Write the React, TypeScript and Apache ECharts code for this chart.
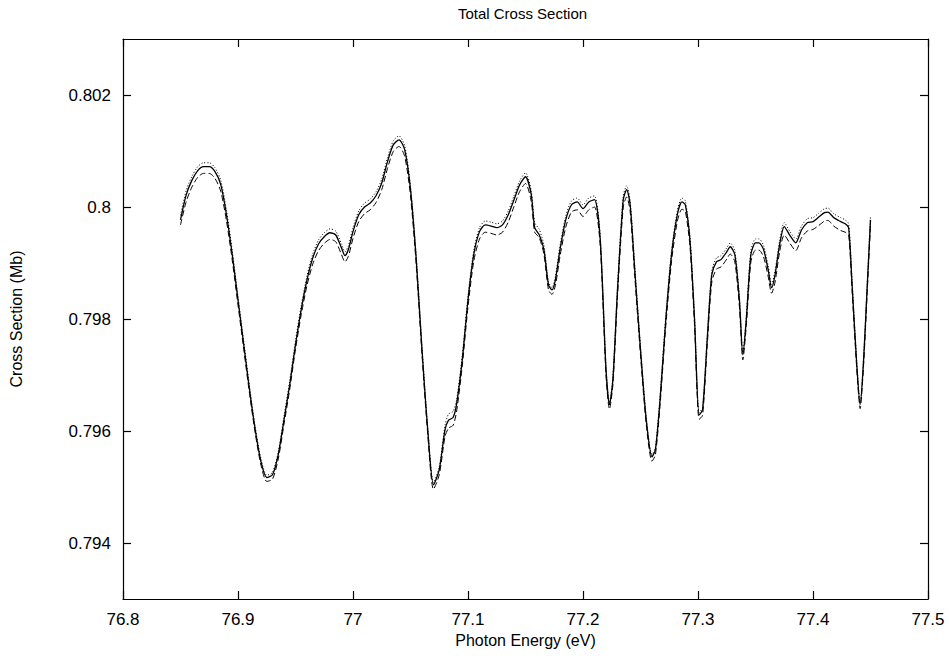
import React, { useEffect, useRef } from "react";
import * as echarts from "echarts";

const energies = [
  76.85, 76.855, 76.86, 76.865, 76.87, 76.875, 76.88, 76.885, 76.89, 76.895,
  76.9, 76.905, 76.91, 76.915, 76.92, 76.925, 76.93, 76.935, 76.94, 76.945,
  76.95, 76.955, 76.96, 76.965, 76.97, 76.975, 76.98, 76.985, 76.99, 76.993,
  76.996, 77.0, 77.005, 77.01, 77.015, 77.02, 77.025, 77.03, 77.035, 77.04,
  77.045, 77.05, 77.055, 77.06, 77.065, 77.07, 77.075, 77.08, 77.083, 77.087,
  77.09, 77.095, 77.1, 77.105, 77.11, 77.115, 77.12, 77.125, 77.13, 77.135,
  77.14, 77.145, 77.15, 77.155, 77.158, 77.162, 77.166, 77.17, 77.173, 77.176,
  77.18, 77.185, 77.19, 77.195, 77.2, 77.205, 77.21, 77.215, 77.22, 77.223,
  77.226, 77.23, 77.235, 77.238, 77.241, 77.245, 77.25, 77.255, 77.26, 77.263,
  77.267, 77.272, 77.277, 77.282, 77.286, 77.289, 77.293, 77.297, 77.301, 77.304,
  77.308, 77.312, 77.316, 77.32, 77.325, 77.328, 77.332, 77.336, 77.339, 77.342,
  77.346, 77.35, 77.353, 77.357, 77.361, 77.364, 77.367, 77.371, 77.375, 77.38,
  77.385, 77.39, 77.395, 77.4, 77.405, 77.41, 77.413, 77.418, 77.424, 77.428,
  77.431, 77.434, 77.438, 77.441, 77.444, 77.447, 77.45,
];

const solid = [
  0.79977, 0.80022, 0.80048, 0.80065, 0.80072, 0.80072, 0.80063, 0.8004, 0.79986, 0.79915,
  0.79834, 0.79754, 0.79674, 0.79602, 0.79545, 0.79517, 0.79522, 0.79558, 0.7962, 0.79683,
  0.79754, 0.79817, 0.7987, 0.79909, 0.79934, 0.79947, 0.79954, 0.7995, 0.79927, 0.79913,
  0.79924, 0.79956, 0.79986, 0.8, 0.80007, 0.8002, 0.80043, 0.80081, 0.80111, 0.8012,
  0.80102, 0.80031, 0.79906, 0.79745, 0.79602, 0.79504, 0.79531, 0.79602, 0.79619, 0.79624,
  0.79647, 0.79727, 0.79834, 0.79915, 0.79956, 0.79968, 0.79966, 0.79963, 0.79968, 0.79986,
  0.80013, 0.8004, 0.80054, 0.80022, 0.79963, 0.7995, 0.79924, 0.79861, 0.79852, 0.7987,
  0.79924, 0.79977, 0.80004, 0.80009, 0.79997, 0.80009, 0.80013, 0.79941, 0.7971, 0.79647,
  0.79692, 0.79852, 0.80013, 0.80031, 0.80004, 0.79888, 0.79745, 0.7962, 0.79554, 0.79567,
  0.79656, 0.79799, 0.79915, 0.79986, 0.80009, 0.80004, 0.79941, 0.79799, 0.79629, 0.79638,
  0.79763, 0.79879, 0.79902, 0.79906, 0.7992, 0.79929, 0.79915, 0.79834, 0.79736, 0.79799,
  0.79915, 0.79936, 0.79936, 0.79924, 0.79888, 0.79856, 0.79879, 0.79933, 0.79965, 0.79949,
  0.79936, 0.79959, 0.79972, 0.79974, 0.79982, 0.7999, 0.79991, 0.79981, 0.79974, 0.7997,
  0.79963, 0.79861, 0.7972, 0.79647, 0.79727, 0.79852, 0.79977,
];

const dotted = [
  0.79985, 0.8003, 0.80055, 0.80072, 0.80079, 0.80079, 0.8007, 0.80048, 0.79994, 0.79922,
  0.7984, 0.7976, 0.7968, 0.79607, 0.7955, 0.79521, 0.79526, 0.79563, 0.79626, 0.7969,
  0.79761, 0.79824, 0.79877, 0.79916, 0.79941, 0.79954, 0.79961, 0.79957, 0.79934, 0.7992,
  0.79931, 0.79963, 0.79993, 0.80007, 0.80014, 0.80027, 0.8005, 0.80088, 0.80118, 0.80127,
  0.80109, 0.80038, 0.79912, 0.7975, 0.79606, 0.79508, 0.79536, 0.7961, 0.7963, 0.79635,
  0.79655, 0.79734, 0.79841, 0.79922, 0.79963, 0.79975, 0.79973, 0.7997, 0.79975, 0.79993,
  0.8002, 0.80047, 0.80061, 0.80029, 0.79972, 0.7996, 0.79932, 0.79866, 0.79856, 0.79876,
  0.79931, 0.79984, 0.80011, 0.80016, 0.80004, 0.80016, 0.8002, 0.79948, 0.79715, 0.79651,
  0.79697, 0.79858, 0.8002, 0.80038, 0.80011, 0.79894, 0.7975, 0.79624, 0.79558, 0.79571,
  0.79661, 0.79805, 0.79922, 0.79993, 0.80016, 0.80011, 0.79947, 0.79804, 0.79633, 0.79642,
  0.79769, 0.79886, 0.79909, 0.79913, 0.79927, 0.79936, 0.79922, 0.7984, 0.7974, 0.79805,
  0.79922, 0.79943, 0.79943, 0.79931, 0.79895, 0.79862, 0.79886, 0.7994, 0.79972, 0.79956,
  0.79943, 0.79966, 0.79979, 0.79981, 0.79989, 0.79997, 0.79998, 0.79988, 0.79981, 0.79977,
  0.7997, 0.79867, 0.79725, 0.7965, 0.79732, 0.79858, 0.79984,
];

const dashed = [
  0.79968, 0.8001, 0.80036, 0.80053, 0.8006, 0.8006, 0.80051, 0.80028, 0.79975, 0.79905,
  0.79825, 0.79746, 0.79667, 0.79596, 0.79539, 0.7951, 0.79514, 0.7955, 0.79612, 0.79675,
  0.79746, 0.79808, 0.7986, 0.79898, 0.79922, 0.79935, 0.79942, 0.79938, 0.79915, 0.79902,
  0.79912, 0.79944, 0.79974, 0.79988, 0.79995, 0.80008, 0.80031, 0.80069, 0.80099, 0.80108,
  0.8009, 0.8002, 0.79896, 0.79736, 0.79594, 0.79496, 0.79522, 0.7959, 0.79605, 0.7961,
  0.79634, 0.79716, 0.79822, 0.79903, 0.79943, 0.79955, 0.79953, 0.7995, 0.79955, 0.79973,
  0.80001, 0.80028, 0.80042, 0.8001, 0.79955, 0.79945, 0.79916, 0.79852, 0.79844, 0.7986,
  0.79912, 0.79964, 0.79991, 0.79995, 0.79983, 0.79995, 0.8, 0.7993, 0.797, 0.79639,
  0.79683, 0.7984, 0.8, 0.80018, 0.79992, 0.79876, 0.79736, 0.79612, 0.79546, 0.79558,
  0.79646, 0.79788, 0.79903, 0.79974, 0.79996, 0.79992, 0.7993, 0.79788, 0.79621, 0.79628,
  0.79752, 0.79866, 0.79889, 0.79893, 0.79907, 0.79916, 0.79902, 0.79822, 0.79727, 0.79788,
  0.79902, 0.79923, 0.79923, 0.79911, 0.79876, 0.79846, 0.79866, 0.7992, 0.7995, 0.79935,
  0.79922, 0.79945, 0.79957, 0.7996, 0.79967, 0.79975, 0.79976, 0.79966, 0.79958, 0.79955,
  0.7995, 0.7985, 0.79712, 0.7964, 0.79718, 0.79842, 0.79968,
];

const xTicks = [76.8, 76.9, 77.0, 77.1, 77.2, 77.3, 77.4, 77.5];
const yTicks = [0.794, 0.796, 0.798, 0.8, 0.802];

const FONT = "'Liberation Sans', Arial, Helvetica, sans-serif";

export default function App() {
  const ref = useRef<HTMLDivElement>(null);
  useEffect(() => {
    if (!ref.current) return;
    const chart = echarts.init(ref.current, null, { renderer: "svg" });
    const pair = (arr: number[]) => energies.map((x, i) => [x, arr[i]]);
    const line = { color: "#000", width: 1.2 };
    const baseX = {
      type: "value" as const,
      min: 76.8,
      max: 77.5,
      interval: 0.1,
      axisLine: { show: true, onZero: false, lineStyle: line },
      splitLine: { show: false },
      axisTick: { show: true, inside: true, length: 8, lineStyle: line, customValues: xTicks },
    };
    const baseY = {
      type: "value" as const,
      min: 0.793,
      max: 0.803,
      axisLine: { show: true, onZero: false, lineStyle: line },
      splitLine: { show: false },
      axisTick: { show: true, inside: true, length: 8, lineStyle: line, customValues: yTicks },
    };
    chart.setOption({
      animation: false,
      backgroundColor: "#fff",
      grid: { left: 117, right: 21, top: 39, bottom: 63, containLabel: false },
      graphic: [
        {
          type: "text",
          x: 522.5,
          y: 13,
          style: {
            text: "Total Cross Section",
            font: `15px ${FONT}`,
            fill: "#000",
            textAlign: "center",
            textVerticalAlign: "middle",
          },
        },
      ],
      xAxis: [
        {
          ...baseX,
          position: "bottom",
          name: "Photon Energy (eV)",
          nameLocation: "middle",
          nameGap: 28,
          nameTextStyle: { color: "#000", fontSize: 16, fontFamily: FONT },
          axisLabel: {
            show: true,
            color: "#000",
            fontSize: 17,
            fontFamily: FONT,
            margin: 12,
            customValues: xTicks,
            formatter: (v: number) => String(parseFloat(v.toFixed(1))),
          },
        },
        { ...baseX, position: "top", axisLabel: { show: false } },
      ],
      yAxis: [
        {
          ...baseY,
          position: "left",
          name: "Cross Section (Mb)",
          nameLocation: "middle",
          nameGap: 99,
          nameRotate: 90,
          nameTextStyle: { color: "#000", fontSize: 16, fontFamily: FONT },
          axisLabel: {
            show: true,
            color: "#000",
            fontSize: 17,
            fontFamily: FONT,
            margin: 12,
            customValues: yTicks,
            formatter: (v: number) => String(parseFloat(v.toFixed(3))),
          },
        },
        { ...baseY, position: "right", axisLabel: { show: false } },
      ],
      series: [
        {
          type: "line",
          data: pair(dotted),
          showSymbol: false,
          smooth: 0.25,
          lineStyle: { color: "#000", width: 1, type: [1, 2] },
          silent: true,
        },
        {
          type: "line",
          data: pair(solid),
          showSymbol: false,
          smooth: 0.25,
          lineStyle: { color: "#000", width: 1.3, type: "solid" },
          silent: true,
        },
        {
          type: "line",
          data: pair(dashed),
          showSymbol: false,
          smooth: 0.25,
          lineStyle: { color: "#000", width: 1, type: [6, 3] },
          silent: true,
        },
      ],
    });
    return () => chart.dispose();
  }, []);
  return (
    <div
      ref={ref}
      style={{ position: "fixed", left: 0, top: 0, width: 949, height: 662, background: "#fff" }}
    />
  );
}
